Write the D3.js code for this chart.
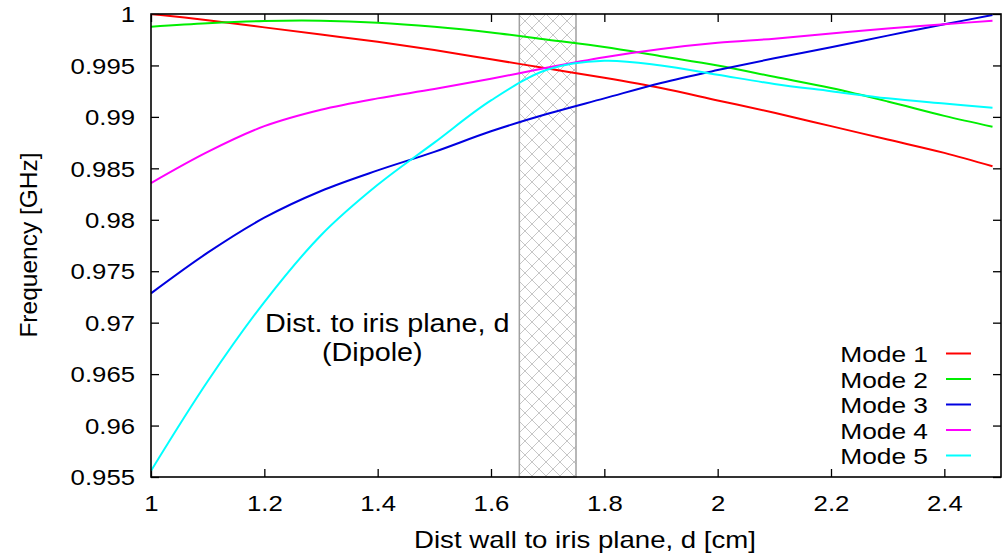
<!DOCTYPE html>
<html>
<head>
<meta charset="utf-8">
<script src="https://cdn.jsdelivr.net/npm/d3@7"></script>
<style>
html,body{margin:0;padding:0;background:#fff;}
svg text{font-family:"Liberation Sans",Arial,Helvetica,sans-serif;fill:#000;}
</style>
</head>
<body>
<svg id="chart" width="1007" height="556"></svg>
<script>
// ---- data ----
const xValues = [1.0, 1.1, 1.2, 1.3, 1.4, 1.5, 1.6, 1.7, 1.8, 1.9, 2.0, 2.1, 2.2, 2.3, 2.4, 2.485];
const mode1 = [1.0000, 0.9994, 0.9987, 0.9980, 0.9973, 0.9965, 0.9956, 0.9947, 0.9938, 0.9928, 0.9916, 0.9904, 0.9891, 0.9878, 0.9865, 0.9852];
const mode2 = [0.99877, 0.9991, 0.99932, 0.99935, 0.99916, 0.99876, 0.9982, 0.9975, 0.9968, 0.9959, 0.9950, 0.9939, 0.9928, 0.9915, 0.9901, 0.98905];
const mode3 = [0.97285, 0.9768, 0.9802, 0.9828, 0.9848, 0.9866, 0.9886, 0.9903, 0.9918, 0.9933, 0.99455, 0.9957, 0.99676, 0.9979, 0.9990, 0.9999];
const mode4 = [0.98357, 0.9866, 0.9891, 0.9907, 0.9918, 0.9927, 0.9937, 0.9948, 0.9958, 0.9966, 0.9972, 0.9976, 0.9981, 0.9986, 0.9990, 0.99935];
const mode5 = [0.9556, 0.9643, 0.9720, 0.9785, 0.9834, 0.9875, 0.9916, 0.9946, 0.99546, 0.9950, 0.9941, 0.9932, 0.9925, 0.9918, 0.9913, 0.9909];
const seriesNames = ["Mode 1", "Mode 2", "Mode 3", "Mode 4", "Mode 5"];
const seriesColors = ["#ff0000", "#00ee00", "#0000e0", "#ff00ff", "#00ffff"];
const xTicks = [1, 1.2, 1.4, 1.6, 1.8, 2, 2.2, 2.4];
const xTickLabels = ["1", "1.2", "1.4", "1.6", "1.8", "2", "2.2", "2.4"];
const yTicks = [0.955, 0.96, 0.965, 0.97, 0.975, 0.98, 0.985, 0.99, 0.995, 1];
const yTickLabels = ["0.955", "0.96", "0.965", "0.97", "0.975", "0.98", "0.985", "0.99", "0.995", "1"];
const bandRange = [1.65, 1.75];
const xLabel = "Dist wall to iris plane, d [cm]";
const yLabel = "Frequency [GHz]";
const noteLines = ["Dist. to iris plane, d", "(Dipole)"];

// ---- layout ----
const svg = d3.select("#chart");
const L = 151, R = 1001, T = 14, B = 477;
const SX = 1.17;
const x = d3.scaleLinear().domain([1, 2.5]).range([L, R]);
const y = d3.scaleLinear().domain([0.955, 1]).range([B, T]);

// hatch pattern
const defs = svg.append("defs");
const C = 14;
const pat = defs.append("pattern").attr("id", "hatch")
  .attr("patternUnits", "userSpaceOnUse").attr("width", C).attr("height", C);
pat.append("path").attr("d", `M0,0 L${C},${C} M${C},0 L0,${C} M-1,1 L1,-1 M${C-1},${C+1} L${C+1},${C-1} M-1,${C-1} L1,${C+1} M${C-1},-1 L${C+1},1`)
  .attr("stroke", "#c0c0c0").attr("stroke-width", 0.9).attr("fill", "none");
defs.append("clipPath").attr("id", "clip").append("rect")
  .attr("x", L).attr("y", T).attr("width", R - L).attr("height", B - T);

// band
svg.append("rect")
  .attr("x", x(bandRange[0])).attr("y", T)
  .attr("width", x(bandRange[1]) - x(bandRange[0])).attr("height", B - T)
  .attr("fill", "url(#hatch)").attr("stroke", "#a0a0a0").attr("stroke-width", 1.5);

// axes
const axB = svg.append("g").attr("transform", `translate(0,${B})`)
  .call(d3.axisBottom(x).tickValues(xTicks).tickFormat((d, i) => xTickLabels[i]).tickSizeInner(-8).tickSizeOuter(0).tickPadding(14));
const axT = svg.append("g").attr("transform", `translate(0,${T})`)
  .call(d3.axisTop(x).tickValues(xTicks).tickFormat("").tickSizeInner(-8).tickSizeOuter(0));
const axL = svg.append("g").attr("transform", `translate(${L},0)`)
  .call(d3.axisLeft(y).tickValues(yTicks).tickFormat((d, i) => yTickLabels[i]).tickSizeInner(-8).tickSizeOuter(0).tickPadding(16));
const axR = svg.append("g").attr("transform", `translate(${R},0)`)
  .call(d3.axisRight(y).tickValues(yTicks).tickFormat("").tickSizeInner(-8).tickSizeOuter(0));
[axB, axT, axL, axR].forEach(a => {
  a.select(".domain").remove();
  a.selectAll("line").attr("stroke", "#000").attr("stroke-width", 1.3);
  a.selectAll("text").attr("font-size", 22).attr("font-family", "Liberation Sans, Arial, sans-serif").attr("fill", "#000");
});
axB.selectAll("text").attr("dy", null).attr("y", 34).attr("transform", `scale(${SX},1)`);
axL.selectAll("text").attr("x", -16 / SX).attr("dy", "0.35em").attr("transform", `scale(${SX},1)`);

// curves
const allSeries = [mode1, mode2, mode3, mode4, mode5];
const line = d3.line().x(d => x(d[0])).y(d => y(d[1])).curve(d3.curveCatmullRom.alpha(0.5));
const g = svg.append("g").attr("clip-path", "url(#clip)");
allSeries.forEach((s, i) => {
  g.append("path").datum(xValues.map((xv, j) => [xv, s[j]]))
    .attr("d", line).attr("fill", "none")
    .attr("stroke", seriesColors[i]).attr("stroke-width", 2);
});

// border
svg.append("rect").attr("x", L).attr("y", T).attr("width", R - L).attr("height", B - T)
  .attr("fill", "none").attr("stroke", "#000").attr("stroke-width", 1.6);

// legend
const leg = svg.append("g");
seriesNames.forEach((n, i) => {
  const by = 362 + i * 25.5;
  leg.append("text").attr("transform", `translate(928,${by}) scale(${SX},1)`)
    .attr("text-anchor", "end").attr("font-size", 22.5).text(n);
  leg.append("line").attr("x1", 946).attr("x2", 971).attr("y1", by - 8.5).attr("y2", by - 8.5)
    .attr("stroke", seriesColors[i]).attr("stroke-width", 2);
});

// annotation
svg.append("text").attr("transform", `translate(265,332) scale(1.15,1)`)
  .attr("font-size", 25).text(noteLines[0]);
svg.append("text").attr("transform", `translate(322,361) scale(1.15,1)`)
  .attr("font-size", 25).text(noteLines[1]);

// axis titles
svg.append("text").attr("transform", `translate(585,548) scale(1.2,1)`)
  .attr("text-anchor", "middle").attr("font-size", 23).text(xLabel);
svg.append("text").attr("transform", `translate(37,245) rotate(-90)`)
  .attr("text-anchor", "middle").attr("font-size", 24.5).text(yLabel);
</script>
</body>
</html>
